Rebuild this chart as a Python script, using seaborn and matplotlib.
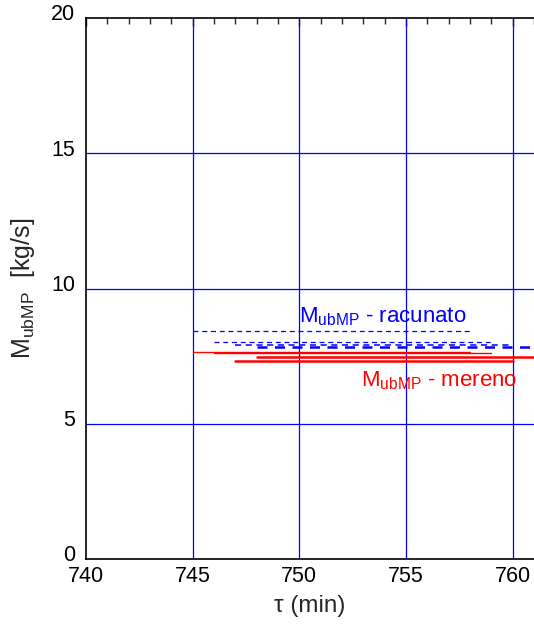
import matplotlib
matplotlib.use("Agg")
import matplotlib.pyplot as plt
import matplotlib.transforms as mtransforms
import seaborn as sns
import pandas as pd
from matplotlib.ticker import MultipleLocator

sns.set_style("white")
plt.rcParams['font.family'] = ['Liberation Sans', 'DejaVu Sans']

# data: horizontal segments (start, end, value)
calc_start = [745, 746, 747, 748]
calc_end = [758, 759, 760, 761]
calc_val = [8.44, 8.03, 7.91, 7.83]

meas_start = [745, 746, 747, 748]
meas_end = [758, 759, 760, 761]
meas_val = [7.65, 7.62, 7.33, 7.48]

x_ticks = [740, 745, 750, 755, 760]
y_ticks = [0, 5, 10, 15, 20]

rows = []
for i, (s, e, v) in enumerate(zip(calc_start, calc_end, calc_val)):
    rows += [dict(t=s, m=v, seg=f"c{i}"), dict(t=e, m=v, seg=f"c{i}")]
for i, (s, e, v) in enumerate(zip(meas_start, meas_end, meas_val)):
    rows += [dict(t=s, m=v, seg=f"m{i}"), dict(t=e, m=v, seg=f"m{i}")]
df = pd.DataFrame(rows)

fig = plt.figure(figsize=(5.34, 6.28), dpi=100)
ax = fig.add_axes([86/534, 1 - 559/628, 1 - 86/534, (559 - 18)/628])

# grid
for xv in x_ticks[1:]:
    ax.axvline(xv, color='#0000ff', lw=0.9, zorder=1)
for yv in y_ticks[1:-1]:
    ax.axhline(yv, color='#0000ff', lw=0.9, zorder=1)

lws_c = [0.9, 0.9, 1.1, 1.8]
for i in range(len(calc_val)):
    sub = df[df.seg == f"c{i}"]
    sns.lineplot(data=sub, x='t', y='m', ax=ax, color='#0000ff', lw=lws_c[i],
                 linestyle=(0, (4, 3)), zorder=3)
lws_m = [1.0, 1.0, 1.8, 1.8]
for i in range(len(meas_val)):
    sub = df[df.seg == f"m{i}"]
    sns.lineplot(data=sub, x='t', y='m', ax=ax, color='#ff0000', lw=lws_m[i], zorder=3)

ax.set_xlim(740, 761)
ax.set_ylim(0, 20)
ax.set_xticks(x_ticks)
ax.set_yticks(y_ticks)
ax.xaxis.set_minor_locator(MultipleLocator(1))
ax.yaxis.set_minor_locator(MultipleLocator(1))
ax.tick_params(which='major', direction='in', length=6, width=1, top=True, right=False,
               labelsize=15.5, colors='black')
ax.tick_params(axis='x', which='major', pad=5)
ax.tick_params(axis='y', which='major', pad=8)
ax.tick_params(which='minor', direction='in', length=4, width=1, top=True, right=False)
for sp in ['left', 'bottom', 'top']:
    ax.spines[sp].set_color('black')
    ax.spines[sp].set_linewidth(1.2)
ax.spines['right'].set_visible(False)

# shift y tick labels slightly upward like the reference
offset = mtransforms.ScaledTranslation(0, 4/72, fig.dpi_scale_trans)
for lab in ax.get_yticklabels():
    lab.set_transform(lab.get_transform() + offset)

ax.set_xlabel('τ (min)', fontsize=17.5, labelpad=6)
ax.set_ylabel(r'M$_{\mathregular{ubMP}}$  [kg/s]', fontsize=18, labelpad=10)

ax.text(750.0, 8.95, r'M$_{\mathregular{ubMP}}$ - racunato', color='#0000ff', fontsize=16,
        va='center', ha='left', zorder=4)
ax.text(752.9, 6.6, r'M$_{\mathregular{ubMP}}$ - mereno', color='#ff0000', fontsize=16,
        va='center', ha='left', zorder=4)

fig.savefig('out.png', dpi=100)
